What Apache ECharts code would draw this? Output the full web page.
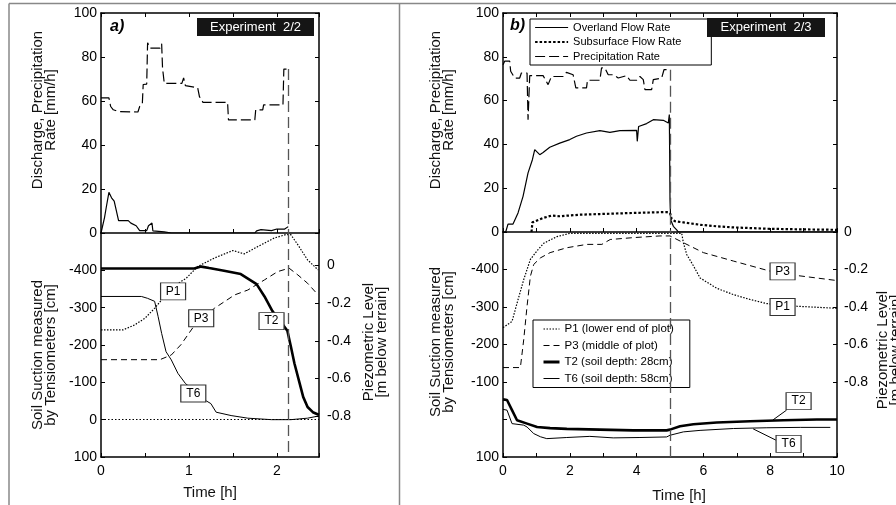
<!DOCTYPE html>
<html>
<head>
<meta charset="utf-8">
<script src="https://cdn.jsdelivr.net/npm/echarts@6/dist/echarts.min.js"></script>
<style>
html,body{margin:0;padding:0;background:#fff;}
#c{width:896px;height:505px;}
</style>
</head>
<body>
<div id="c"></div>
<script>
// ---------------- DATA ----------------
const aPrecip = [[0,61.4],[0.09,61.4],[0.11,57.5],[0.14,56],[0.2,55.2],[0.42,55],[0.44,57.5],[0.47,58.5],[0.48,67.5],[0.52,67.7],[0.53,86.5],[0.55,87],[0.56,84],[0.67,84],[0.69,86],[0.7,75],[0.72,68],[0.92,68],[0.94,70.5],[0.96,67],[1.1,66],[1.12,62],[1.16,59.4],[1.44,59.4],[1.45,51.4],[1.75,51.4],[1.76,56],[1.84,56],[1.85,58.2],[2.07,58.2],[2.08,74.5],[2.13,74.5]];
const aOverland = [[0,0],[0.04,7],[0.06,11.7],[0.09,18.5],[0.11,19.2],[0.12,16],[0.15,14.5],[0.2,5.6],[0.31,5.6],[0.34,4.5],[0.4,3.3],[0.44,1.1],[0.52,1.1],[0.54,3.3],[0.58,4.5],[0.59,1],[0.72,0.5],[0.8,0],[1.75,0],[1.77,1],[1.82,1.5],[1.94,1.1],[2.0,1.8],[2.09,1.8],[2.13,2.9]];
const aT2 = [[0,-405],[1.06,-405],[1.14,-410],[1.23,-406],[1.40,-399],[1.59,-390],[1.77,-363],[1.86,-330],[1.95,-291],[2.07,-254],[2.12,-238],[2.16,-196],[2.2,-151],[2.26,-97],[2.30,-61],[2.35,-34],[2.41,-20],[2.47,-14],[2.48,-13]];
const aT6 = [[0,-330],[0.46,-330],[0.53,-325],[0.61,-317],[0.65,-276],[0.69,-231],[0.74,-182],[0.8,-160],[0.875,-124],[0.96,-97],[1.2,-50],[1.25,-43],[1.31,-20],[1.48,-11],[1.67,-4],[1.94,0],[2.16,0],[2.35,-4],[2.48,-10]];
const aP1 = [[0,-0.342],[0.25,-0.342],[0.38,-0.316],[0.5,-0.28],[0.61,-0.227],[0.72,-0.165],[0.86,-0.10],[0.97,-0.067],[1.1,-0.005],[1.29,0.04],[1.5,0.08],[1.63,0.062],[1.78,0.10],[1.97,0.146],[2.1,0.164],[2.16,0.164],[2.24,0.11],[2.35,0.03],[2.47,-0.023]];
const aP3 = [[0,-0.50],[0.67,-0.50],[0.8,-0.475],[0.91,-0.42],[1.0,-0.36],[1.06,-0.32],[1.29,-0.227],[1.52,-0.156],[1.67,-0.13],[1.86,-0.076],[2.01,-0.032],[2.14,-0.014],[2.24,-0.05],[2.35,-0.094],[2.47,-0.156]];
const aRainEnd = 2.13, aRainEndRate = 74.5;

const bPrecip = [[0,76.4],[0.05,78],[0.2,78],[0.23,73.4],[0.35,70.3],[0.5,70.3],[0.55,72.6],[0.72,72.6],[0.75,51.3],[0.78,51.3],[0.8,71.4],[1.2,71.4],[1.35,67.3],[1.45,71],[1.8,71],[1.9,72.9],[2.1,71.8],[2.18,65.8],[2.5,65.8],[2.53,69.3],[2.9,69.3],[2.95,74.9],[3.05,74.9],[3.15,71.8],[3.3,71.8],[3.45,70.3],[3.7,71.4],[3.8,69.3],[4.0,69.3],[4.1,71],[4.2,69.6],[4.25,65],[4.45,65],[4.5,69.6],[4.75,70.3],[4.82,74.1],[4.95,74.1]];
const bOverland = [[0,0],[0.08,0],[0.15,3.6],[0.3,3.6],[0.45,8.7],[0.6,16.3],[0.75,27],[0.88,33],[0.95,37.6],[1.0,36.8],[1.1,35.3],[1.2,36.3],[1.4,38.7],[1.7,40.6],[2.0,42.2],[2.2,43.7],[2.5,45.2],[2.9,46.3],[3.2,45.5],[3.5,46.3],[4.0,46.4],[4.02,41.4],[4.06,48.2],[4.3,49.5],[4.5,51.3],[4.8,51],[4.95,49.8],[4.98,53.6],[5.0,14.8],[5.02,5.6],[5.1,2.6],[5.2,1],[5.25,0],[10,0]];
const bSubsurface = [[0.85,0],[0.86,1],[0.88,4.4],[1.2,6.4],[1.45,7.5],[1.7,7.2],[2.3,7.9],[2.9,8.2],[3.9,8.7],[4.9,9.1],[5.0,8.7],[5.05,5.9],[5.15,4.9],[5.4,4.4],[5.9,3.3],[6.4,2.6],[6.9,2.1],[7.9,1.5],[8.9,1.2],[10,1.0]];
const bP1 = [[0,-0.51],[0.27,-0.477],[0.42,-0.38],[0.62,-0.254],[0.82,-0.146],[1.02,-0.10],[1.22,-0.06],[1.61,-0.025],[2.0,-0.007],[5.35,-0.007],[5.4,-0.057],[5.5,-0.12],[5.7,-0.18],[5.9,-0.245],[6.4,-0.30],[6.9,-0.334],[7.4,-0.36],[7.9,-0.382],[8.8,-0.396],[10,-0.407]];
const bP3 = [[0,-0.723],[0.52,-0.723],[0.62,-0.575],[0.72,-0.396],[0.82,-0.236],[0.92,-0.173],[1.12,-0.138],[1.41,-0.11],[1.91,-0.084],[2.51,-0.066],[2.96,-0.066],[3.21,-0.04],[3.9,-0.03],[4.7,-0.021],[5.0,-0.021],[5.4,-0.057],[6.0,-0.11],[6.9,-0.155],[8.0,-0.209],[8.8,-0.232],[10,-0.259]];
const bT2 = [[0,-53.6],[0.12,-52],[0.27,-25],[0.42,2],[0.72,11],[1.02,20],[1.41,23],[1.91,25],[2.9,27],[3.9,29],[4.9,29],[5.0,27],[5.3,18],[5.7,12.5],[6.4,8],[7.4,4.5],[8.4,2],[9.4,0],[10,0]];
const bT6 = [[0,-27],[0.12,-25],[0.27,11],[0.62,15],[0.72,20],[0.92,37.5],[1.12,46],[1.31,51],[1.91,48],[2.6,45],[3.3,49],[4.1,48],[4.9,46.5],[5.0,42],[5.4,33],[5.9,29],[6.9,24],[7.9,22],[8.9,21],[9.8,21]];
const bRainEnd = 5.0, bRainEndRate = 74.1;

const aRightLabels = [0,-0.2,-0.4,-0.6,-0.8];
const bHiddenLeft = [-500, 0];

const bTopNames = ['Overland Flow Rate','Subsurface Flow Rate','Precipitation Rate'];
const bBotNames = ['P1 (lower end of plot)','P3 (middle of plot)','T2 (soil depth: 28cm)','T6 (soil depth: 58cm)'];

const aBoxes = {P1:[0.82,-0.137], P3:[1.14,-0.28], T2:[1.94,-264], T6:[1.05,-70]};
const bBoxes = {P1:[8.37,-0.40], P3:[8.37,-0.21], T2:[8.85,-49], T6:[8.55,65]};
const bLeaders = {T2:[[8.49,-25],[8.08,1.3]], T6:[[8.17,55],[7.49,25]]};

// ---------------- STYLE ----------------
const FONT = 'Liberation Sans, Arial, Helvetica, sans-serif';
function AX(){ return {show:true, onZero:false, lineStyle:{color:'#000', width:1.5}}; }
function TICK(extra){ return Object.assign({show:true, inside:true, length:4, lineStyle:{color:'#000', width:1}}, extra||{}); }
function LBL(extra){ return Object.assign({show:true, color:'#000', fontSize:14, fontFamily:FONT}, extra||{}); }
function isInt(v){ return Math.abs(v - Math.round(v)) < 1e-6; }
const NOSPLIT = function(){ return {show:false}; };

const XA_TOP = 0, XA_BOT = 2, XB_TOP = 3, XB_BOT = 5;
const YA_TOP = 0, YA_CM = 2, YA_M = 3, YB_TOP = 4, YB_CM = 6, YB_M = 7;

function ls(w, t, c){ return {color:c||'#000', width:w, type:t}; }
const STY = {
  precip: function(){return ls(1.2,[10,4]);},
  over: function(){return ls(1.2,'solid');},
  sub: function(){return ls(2.2,[2.5,2]);},
  p1: function(){return ls(1.2,[1.5,1.5]);},
  p3: function(){return ls(1,[6,4]);},
  t2: function(){return ls(2.6,'solid');},
  t6: function(){return ls(1,'solid');},
  marker: function(){return ls(1.3,[11,5],'#555');}
};

function buildOption(useCustom){
  const xAxis = [
    {gridIndex:0, type:'value', min:0, max:2.48, interval:0.5, position:'bottom', axisLine:AX(), axisTick:TICK(), axisLabel:{show:false}, splitLine:NOSPLIT()},
    {gridIndex:0, type:'value', min:0, max:2.48, interval:0.5, position:'top', axisLine:AX(), axisTick:TICK(), axisLabel:{show:false}, splitLine:NOSPLIT()},
    {gridIndex:1, type:'value', min:0, max:2.48, interval:0.5, position:'bottom', axisLine:AX(), axisTick:TICK(),
      axisLabel:LBL({margin:7, formatter:function(v){return isInt(v)?String(Math.round(v)):'';}}), splitLine:NOSPLIT()},
    {gridIndex:2, type:'value', min:0, max:10, interval:1, position:'bottom', axisLine:AX(), axisTick:TICK(), axisLabel:{show:false}, splitLine:NOSPLIT()},
    {gridIndex:2, type:'value', min:0, max:10, interval:1, position:'top', axisLine:AX(), axisTick:TICK(), axisLabel:{show:false}, splitLine:NOSPLIT()},
    {gridIndex:3, type:'value', min:0, max:10, interval:1, position:'bottom', axisLine:AX(), axisTick:TICK(),
      axisLabel:LBL({margin:7, formatter:function(v){return (Math.round(v)%2===0)?String(Math.round(v)):'';}}), splitLine:NOSPLIT()}
  ];
  const aRight = useCustom ?
    {gridIndex:1, type:'value', min:-1.017, max:0.173, position:'right', axisLine:AX(),
      axisTick:TICK({customValues:aRightLabels}),
      axisLabel:LBL({margin:8, customValues:aRightLabels, formatter:function(v){return String(Math.round(v*10)/10);}}), splitLine:NOSPLIT()} :
    {gridIndex:1, type:'value', min:-1, max:0.2, interval:0.2, position:'right', axisLine:AX(), axisTick:TICK(),
      axisLabel:LBL({margin:8, formatter:function(v){return (v>0.1||v<-0.9)?'':String(Math.round(v*10)/10);}}), splitLine:NOSPLIT()};
  const yAxis = [
    {gridIndex:0, type:'value', min:0, max:100, interval:20, position:'left', axisLine:AX(), axisTick:TICK(), axisLabel:LBL({margin:4}), splitLine:NOSPLIT()},
    {gridIndex:0, type:'value', min:0, max:100, interval:20, position:'right', axisLine:AX(), axisTick:TICK(), axisLabel:{show:false}, splitLine:NOSPLIT()},
    {gridIndex:1, type:'value', min:-500, max:100, interval:100, inverse:true, position:'left', axisLine:AX(), axisTick:TICK(),
      axisLabel:LBL({margin:4, formatter:function(v){return v===-500?'':String(v);}}), splitLine:NOSPLIT()},
    aRight,
    {gridIndex:2, type:'value', min:0, max:100, interval:20, position:'left', axisLine:AX(), axisTick:TICK(), axisLabel:LBL({margin:4}), splitLine:NOSPLIT()},
    {gridIndex:2, type:'value', min:0, max:100, interval:20, position:'right', axisLine:AX(), axisTick:TICK(), axisLabel:{show:false}, splitLine:NOSPLIT()},
    {gridIndex:3, type:'value', min:-500, max:100, interval:100, inverse:true, position:'left', axisLine:AX(), axisTick:TICK(),
      axisLabel:LBL({margin:4, formatter:function(v){return bHiddenLeft.indexOf(v)>=0?'':String(v);}}), splitLine:NOSPLIT()},
    {gridIndex:3, type:'value', min:-1.2, max:0, interval:0.2, position:'right', axisLine:AX(), axisTick:TICK(),
      axisLabel:LBL({margin:7, formatter:function(v){return v<-0.9?'':String(Math.round(v*10)/10);}}), splitLine:NOSPLIT()}
  ];

  function boxMP(name, coord){
    return {
      silent:true, symbol:'rect', symbolSize:[25,17],
      itemStyle:{color:'#fff', borderColor:'#333', borderWidth:1},
      label:{show:true, position:'inside', color:'#000', fontSize:12, fontFamily:FONT, formatter:name},
      data:[{name:name, coord:coord}]
    };
  }
  function ml(data, style){
    return {silent:true, symbol:['none','none'], label:{show:false}, lineStyle:style, data:data};
  }
  function line(name, x, y, data, style, extra){
    return Object.assign({name:name, type:'line', xAxisIndex:x, yAxisIndex:y, data:data, symbol:'none', showSymbol:false,
      lineStyle:style, itemStyle:{color:'#000'}, z:2}, extra||{});
  }

  const series = [
    line('a-precip', XA_TOP, YA_TOP, aPrecip, STY.precip(), {markLine:ml([[{coord:[aRainEnd,aRainEndRate]},{coord:[aRainEnd,0]}]], STY.marker())}),
    line('a-overland', XA_TOP, YA_TOP, aOverland, STY.over()),
    line('a-T2', XA_BOT, YA_CM, aT2, STY.t2(), {markPoint:boxMP('T2', aBoxes.T2), markLine:ml([{xAxis:aRainEnd}], STY.marker())}),
    line('a-T6', XA_BOT, YA_CM, aT6, STY.t6(), {markPoint:boxMP('T6', aBoxes.T6), markLine:ml([{yAxis:0}], ls(1,[1.5,2]))}),
    line('a-P1', XA_BOT, YA_M, aP1, STY.p1(), {markPoint:boxMP('P1', aBoxes.P1)}),
    line('a-P3', XA_BOT, YA_M, aP3, STY.p3(), {markPoint:boxMP('P3', aBoxes.P3)}),
    line(bTopNames[0], XB_TOP, YB_TOP, bOverland, STY.over()),
    line(bTopNames[1], XB_TOP, YB_TOP, bSubsurface, STY.sub()),
    line(bTopNames[2], XB_TOP, YB_TOP, bPrecip, STY.precip(), {markLine:ml([[{coord:[bRainEnd,bRainEndRate]},{coord:[bRainEnd,0]}]], STY.marker())}),
    line(bBotNames[0], XB_BOT, YB_M, bP1, STY.p1(), {markPoint:boxMP('P1', bBoxes.P1)}),
    line(bBotNames[1], XB_BOT, YB_M, bP3, STY.p3(), {markPoint:boxMP('P3', bBoxes.P3), markLine:ml([{xAxis:bRainEnd}], STY.marker())}),
    line(bBotNames[2], XB_BOT, YB_CM, bT2, STY.t2(), {markPoint:boxMP('T2', bBoxes.T2),
      markLine:ml([[{coord:bLeaders.T2[0]},{coord:bLeaders.T2[1]}]], ls(1,'solid'))}),
    line(bBotNames[3], XB_BOT, YB_CM, bT6, STY.t6(), {markPoint:boxMP('T6', bBoxes.T6),
      markLine:ml([[{coord:bLeaders.T6[0]},{coord:bLeaders.T6[1]}]], ls(1,'solid'))})
  ];

  function vtext(x, y, text){
    return {type:'text', x:x, y:y, rotation:Math.PI/2, z:10,
      style:{text:text, fill:'#111', fontSize:15, fontFamily:FONT, lineHeight:13, align:'center', verticalAlign:'middle'}};
  }
  function htext(x, y, text, opt){
    return {type:'text', x:x, y:y, z:10, style:Object.assign({text:text, fill:'#111', fontSize:15, fontFamily:FONT, align:'center', verticalAlign:'middle'}, opt||{})};
  }
  function frame(x1,y1,x2,y2){ return {type:'line', shape:{x1:x1,y1:y1,x2:x2,y2:y2}, style:{stroke:'#888', lineWidth:1.5}}; }
  function legendData(names, styles){
    return names.map(function(n, i){ return {name:n, itemStyle:{opacity:0}, lineStyle:styles[i]}; });
  }

  return {
    animation:false,
    backgroundColor:'#fff',
    grid:[
      {left:101, top:13, width:218, height:220},
      {left:101, top:233, width:218, height:224},
      {left:503, top:13, width:334, height:219},
      {left:503, top:232, width:334, height:225}
    ],
    xAxis:xAxis,
    yAxis:yAxis,
    legend:[
      {data:legendData(bTopNames, [STY.over(), STY.sub(), STY.precip()]), orient:'vertical', left:530, top:19, itemWidth:33, itemHeight:10, itemGap:3.5,
        itemStyle:{opacity:0}, padding:[3,30,3,4], borderColor:'#000', borderWidth:1, backgroundColor:'#fff', selectedMode:false,
        textStyle:{fontSize:11, fontFamily:FONT, color:'#000'}},
      {data:legendData(bBotNames, [STY.p1(), STY.p3(), ls(3,'solid'), STY.t6()]), orient:'vertical', left:533, top:320, itemWidth:16, itemHeight:10, itemGap:4.5,
        itemStyle:{opacity:0}, padding:[3,16,3,9], borderColor:'#000', borderWidth:1, backgroundColor:'#fff', selectedMode:false,
        textStyle:{fontSize:11.5, fontFamily:FONT, color:'#000'}}
    ],
    graphic:[
      frame(9,3.5,896,3.5), frame(9,3.5,9,505), frame(399.5,3.5,399.5,505),
      vtext(44, 110, 'Discharge, Precipitation\nRate [mm/h]'),
      vtext(44, 355, 'Soil Suction measured\nby Tensiometers [cm]'),
      vtext(375, 342, 'Piezometric Level\n[m below terrain]'),
      vtext(442, 110, 'Discharge, Precipitation\nRate [mm/h]'),
      vtext(442, 342, 'Soil Suction measured\nby Tensiometers [cm]'),
      vtext(889, 350, 'Piezometric Level\n[m below terrain]'),
      htext(210, 493, 'Time [h]'),
      htext(679, 496, 'Time [h]'),
      htext(110, 27, 'a)', {align:'left', fontWeight:'bold', fontStyle:'italic', fontSize:16, fill:'#000'}),
      htext(510, 26, 'b)', {align:'left', fontWeight:'bold', fontStyle:'italic', fontSize:16, fill:'#000'}),
      {type:'rect', z:10, shape:{x:197, y:18, width:117, height:18}, style:{fill:'#151515'}},
      htext(255.5, 27.5, 'Experiment  2/2', {fill:'#fff', fontSize:13}),
      {type:'rect', z:10, shape:{x:707, y:18, width:118, height:19}, style:{fill:'#151515'}},
      htext(766, 27.5, 'Experiment  2/3', {fill:'#fff', fontSize:13})
    ],
    series:series
  };
}

let chart = echarts.init(document.getElementById('c'));
try {
  chart.setOption(buildOption(true));
} catch (e) {
  chart.dispose();
  chart = echarts.init(document.getElementById('c'));
  chart.setOption(buildOption(false));
}
</script>
</body>
</html>
